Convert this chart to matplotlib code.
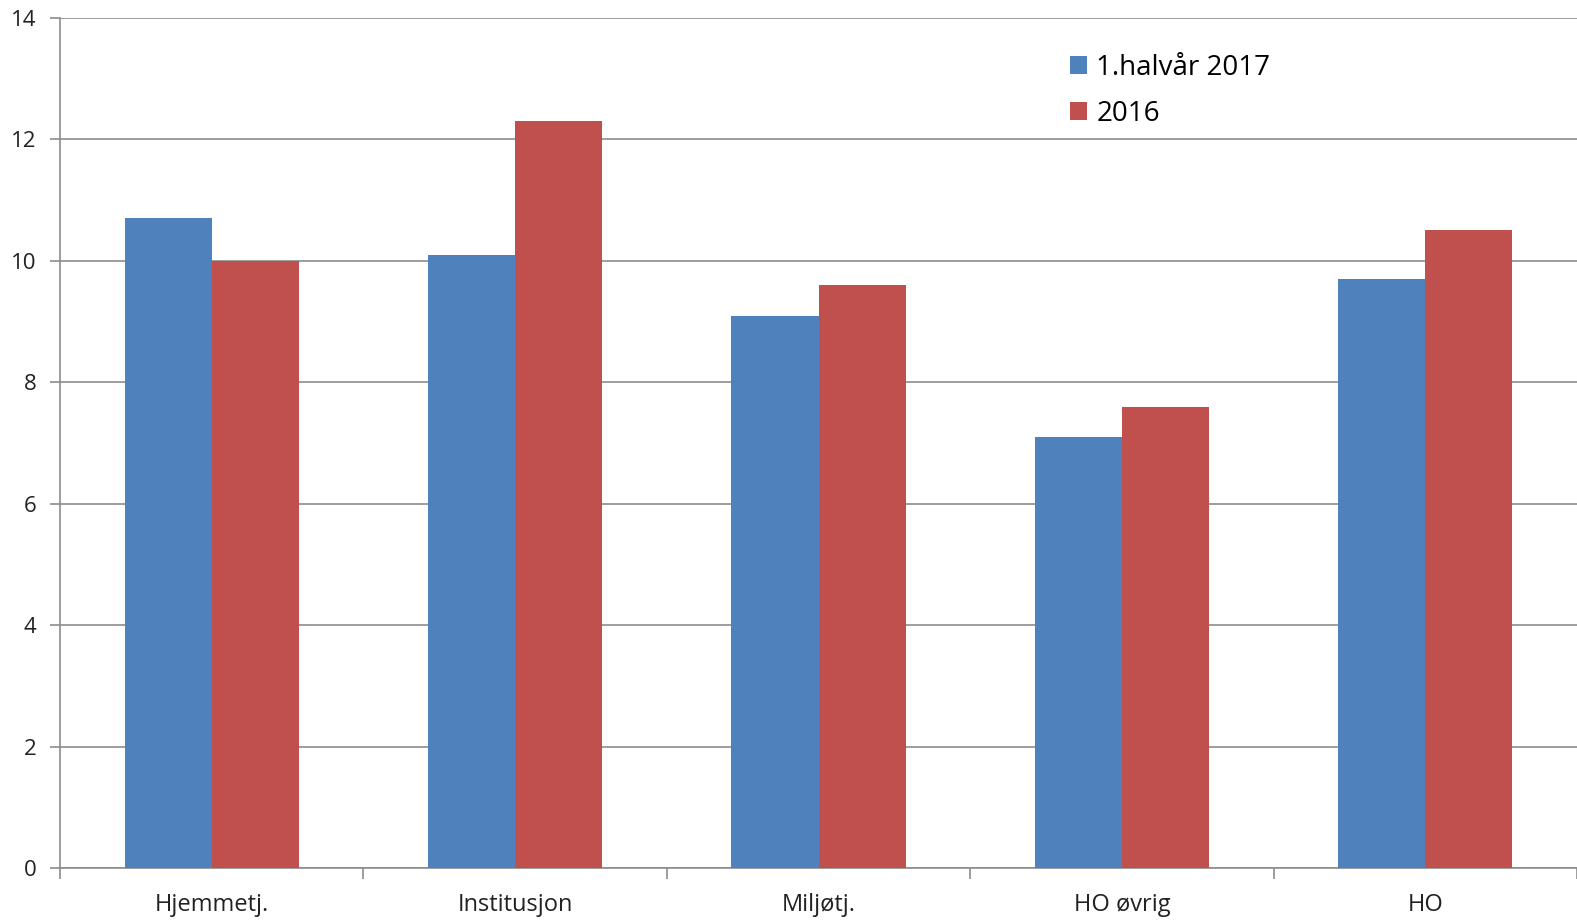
import matplotlib
matplotlib.use("Agg")
import matplotlib.pyplot as plt
import numpy as np

categories = ["Hjemmetj.", "Institusjon", "Miljøtj.", "HO øvrig", "HO"]
series_names = ["1.halvår 2017", "2016"]
values_2017h1 = [10.7, 10.1, 9.1, 7.1, 9.7]
values_2016 = [10.0, 12.3, 9.6, 7.6, 10.5]
yticks = [0, 2, 4, 6, 8, 10, 12, 14]

blue = "#4F81BD"
red = "#C0504D"
grid_c = "#8C8C8C"

plt.rcParams['font.family'] = ['Open Sans', 'DejaVu Sans']

fig = plt.figure(figsize=(15.77, 9.22), dpi=100)
ax = fig.add_axes([60/1577, 54/922, (1577-60)/1577, (868-18)/922])

x = np.arange(len(categories))
w = 0.287
ax.bar(x - w/2, values_2017h1, width=w, color=blue, label=series_names[0], zorder=3)
ax.bar(x + w/2, values_2016, width=w, color=red, label=series_names[1], zorder=3)

ax.set_xlim(-0.5, len(categories) - 0.5)
ax.set_ylim(0, 14)
ax.set_yticks(yticks)
ax.set_yticklabels([str(t) for t in yticks], fontsize=16, color="#222222")
ax.yaxis.grid(True, color=grid_c, linewidth=1.2, zorder=0)
ax.set_axisbelow(True)

ax.set_xticks(x)
ax.set_xticklabels(categories, fontsize=17, color="#222222")
ax.tick_params(axis='x', which='major', length=0, pad=18)
ax.set_xticks(np.arange(-0.5, len(categories) + 0.5, 1.0), minor=True)
ax.tick_params(axis='x', which='minor', length=8, color=grid_c, width=1.2)
ax.tick_params(axis='y', length=7, color=grid_c, width=1.2, pad=10)

for s in ["top", "right"]:
    ax.spines[s].set_visible(False)
for s in ["left", "bottom"]:
    ax.spines[s].set_color(grid_c)
    ax.spines[s].set_linewidth(1.2)

leg = ax.legend(loc="upper left", bbox_to_anchor=(1070/1577, 1 - 54/922),
                bbox_transform=fig.transFigure, frameon=False, fontsize=20,
                borderpad=0, borderaxespad=0,
                handlelength=0.6, handleheight=0.6, handletextpad=0.35, labelspacing=0.65)

fig.savefig("out.png", dpi=100)
